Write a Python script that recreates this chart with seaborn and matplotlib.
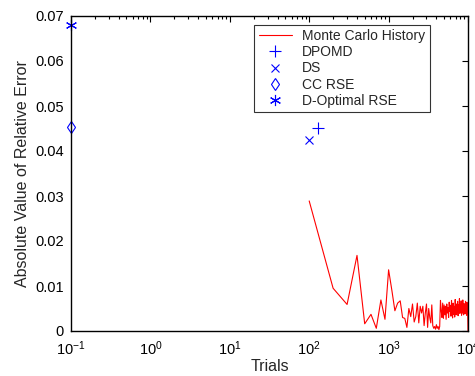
import numpy as np
import pandas as pd
import matplotlib
matplotlib.use("Agg")
import matplotlib.pyplot as plt
import seaborn as sns
from matplotlib.ticker import FixedLocator, FuncFormatter, LogLocator

# Monte Carlo convergence history (trials, |relative error|)
mc_trials = [100, 200, 300, 400, 500, 600, 700, 800, 900, 1000] + list(range(1100, 10001, 100))
mc_error = [
    0.0289, 0.0095, 0.0059, 0.0168, 0.0016, 0.0037, 0.0006, 0.0069, 0.0026, 0.0136,
    0.0090, 0.0045, 0.0062, 0.0067, 0.0030, 0.0028, 0.0008, 0.0050, 0.0032, 0.0060,
    0.0020, 0.0032, 0.0062, 0.0018, 0.0055, 0.0040, 0.0055, 0.0012, 0.0040, 0.0060,
    0.0008, 0.0050, 0.0030, 0.0018, 0.0058, 0.0012, 0.0006, 0.0010, 0.0004, 0.0014,
    0.0006, 0.0010, 0.0003, 0.0010, 0.0068, 0.0045, 0.0030, 0.0062, 0.0028, 0.0058,
    0.0036, 0.0055, 0.0026, 0.0060, 0.0040, 0.0052, 0.0030, 0.0064, 0.0044, 0.0057,
    0.0033, 0.0068, 0.0042, 0.0029, 0.0062, 0.0037, 0.0055, 0.0031, 0.0070, 0.0048,
    0.0036, 0.0060, 0.0041, 0.0066, 0.0034, 0.0058, 0.0045, 0.0072, 0.0039, 0.0056,
    0.0042, 0.0067, 0.0035, 0.0059, 0.0040, 0.0069, 0.0047, 0.0036, 0.0061, 0.0044,
    0.0057, 0.0038, 0.0066, 0.0043, 0.0058, 0.0035, 0.0064, 0.0048, 0.0052, 0.0000,
]

# Single-point estimates from the other methods
dpomd_trials, dpomd_error = [128], [0.0452]
ds_trials, ds_error = [100], [0.0424]
ccrse_trials, ccrse_error = [0.1], [0.0454]
dopt_trials, dopt_error = [0.1], [0.0680]

y_ticks = [0, 0.01, 0.02, 0.03, 0.04, 0.05, 0.06, 0.07]

sns.set_style("white")
plt.rcParams["font.family"] = ["Liberation Sans", "DejaVu Sans"]
plt.rcParams["mathtext.fontset"] = "custom"
plt.rcParams["mathtext.rm"] = "Liberation Sans"
plt.rcParams["mathtext.it"] = "Liberation Sans"

fig = plt.figure(figsize=(4.75, 3.76), dpi=100)
ax = fig.add_axes([71 / 475, 1 - 331 / 376, 397 / 475, 315 / 376])

mc = pd.DataFrame({"trials": mc_trials, "error": mc_error})
sns.lineplot(data=mc, x="trials", y="error", color="red", linewidth=0.8,
             ax=ax, label="Monte Carlo History")

blue = "#0000ff"
point_sets = [
    (dpomd_trials, dpomd_error, "+", 9, "DPOMD"),
    (ds_trials, ds_error, "x", 6, "DS"),
    (ccrse_trials, ccrse_error, "d", 6.5, "CC RSE"),
    (dopt_trials, dopt_error, (6, 2, 0), 8, "D-Optimal RSE"),
]
for xs, ys, mk, ms, lab in point_sets:
    ax.plot(xs, ys, linestyle="none", marker=mk, markersize=ms,
            markerfacecolor="none", markeredgecolor=blue, markeredgewidth=0.8,
            color=blue, label=lab, clip_on=False)

ax.set_xscale("log")
ax.set_xlim(0.1, 1e4)
ax.set_ylim(0, 0.07)
ax.xaxis.set_major_locator(LogLocator(base=10, numticks=10))
ax.xaxis.set_minor_locator(LogLocator(base=10, subs=np.arange(2, 10), numticks=20))
ax.yaxis.set_major_locator(FixedLocator(y_ticks))
ax.yaxis.set_major_formatter(FuncFormatter(lambda v, p: "0" if abs(v) < 1e-12 else f"{v:.2f}"))

for s in ax.spines.values():
    s.set_visible(True)
    s.set_color("black")
    s.set_linewidth(1.0)
ax.tick_params(which="both", direction="in", top=True, right=True,
               colors="black", labelsize=10.5, width=0.8)
ax.tick_params(which="major", length=4, pad=5)
ax.tick_params(axis="x", which="major", pad=6)
ax.tick_params(which="minor", length=2)

ax.set_xlabel("Trials", fontsize=11.5, labelpad=1)
ax.set_ylabel("Absolute Value of Relative Error", fontsize=11.5, labelpad=4)

leg = ax.legend(loc="upper right", bbox_to_anchor=(0.904, 0.972), fontsize=10,
                frameon=True, fancybox=False, edgecolor="black",
                borderpad=0.32, labelspacing=0.15, handlelength=2.4,
                handletextpad=0.75, borderaxespad=0)
leg.get_frame().set_linewidth(0.8)

fig.savefig("out.png", dpi=100, facecolor="white")
